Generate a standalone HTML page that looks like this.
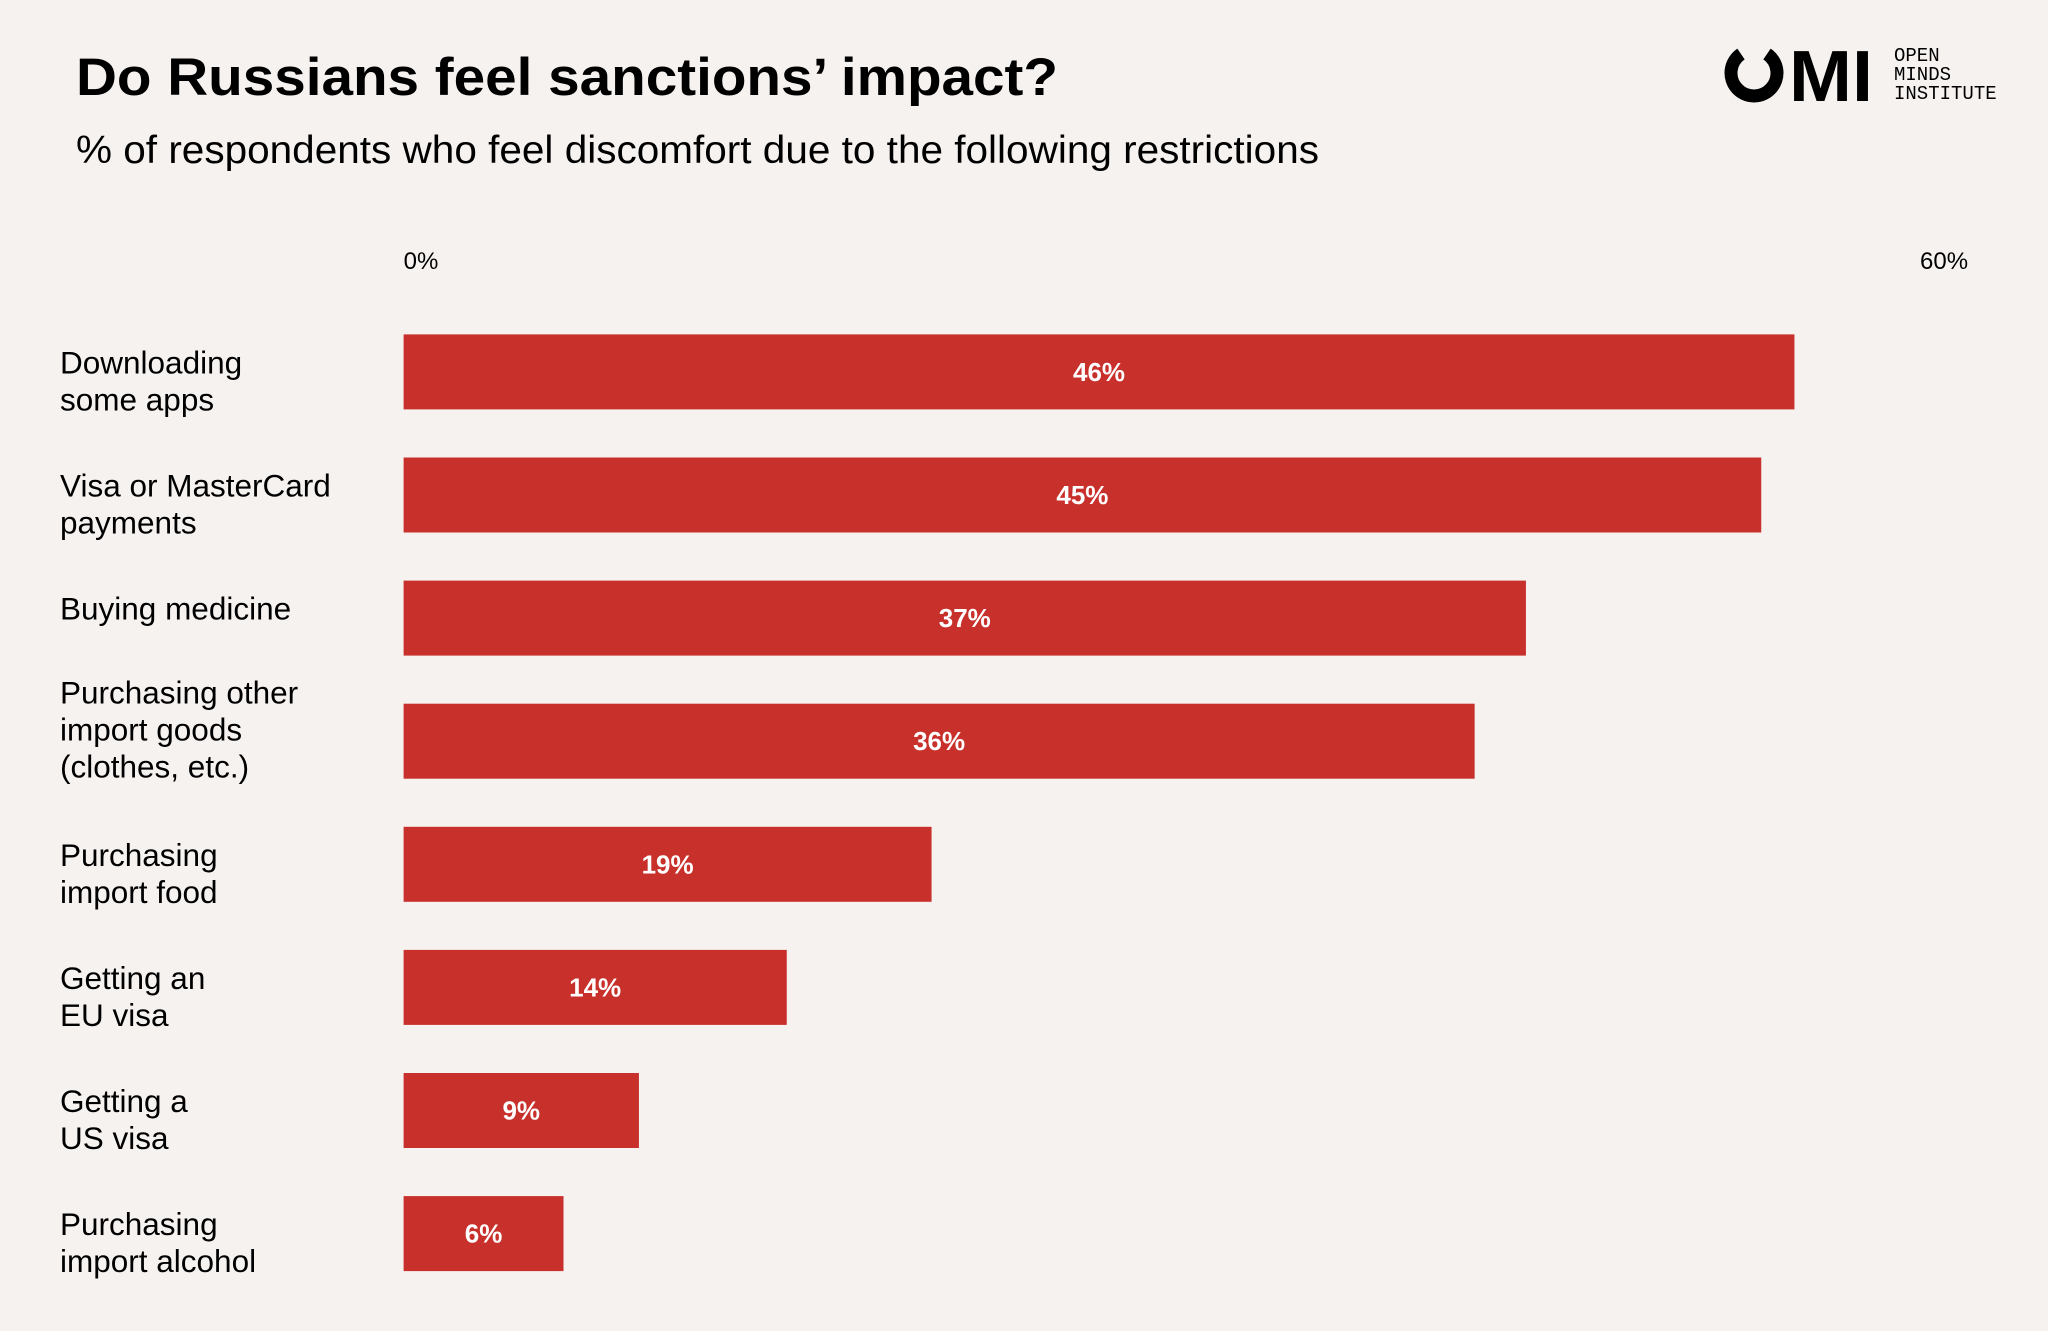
<!DOCTYPE html>
<html><head><meta charset="utf-8">
<style>
html,body{margin:0;padding:0;background:#f6f2f0;}
svg{display:block;font-family:"Liberation Sans",sans-serif;}
</style></head>
<body>
<svg id="chart" width="2048" height="1331" viewBox="0 0 2048 1331">
<rect x="0" y="0" width="2048" height="1331" fill="#f6f2f0"/>
<text x="76" y="95" font-size="53" font-weight="bold" fill="#000" textLength="982" lengthAdjust="spacingAndGlyphs">Do Russians feel sanctions’ impact?</text>
<text x="76" y="163" font-size="39" fill="#000" textLength="1243" lengthAdjust="spacingAndGlyphs">% of respondents who feel discomfort due to the following restrictions</text>
<g>
  <path d="M1741 54 A23 23 0 1 0 1767 54" fill="none" stroke="#000" stroke-width="13"/>
  <text x="1789" y="101" font-size="72" font-weight="bold" fill="#000" textLength="84" lengthAdjust="spacingAndGlyphs">MI</text>
  <text x="1894" y="61" font-family="Liberation Mono, monospace" font-size="19" fill="#000">OPEN</text>
  <text x="1894" y="80" font-family="Liberation Mono, monospace" font-size="19" fill="#000">MINDS</text>
  <text x="1894" y="99" font-family="Liberation Mono, monospace" font-size="19" fill="#000">INSTITUTE</text>
</g>
<g id="ticks"></g>
<g id="bars"></g>
</svg>
<script>
const categories = [
  ["Downloading","some apps"],
  ["Visa or MasterCard","payments"],
  ["Buying medicine"],
  ["Purchasing other","import goods","(clothes, etc.)"],
  ["Purchasing","import food"],
  ["Getting an","EU visa"],
  ["Getting a","US visa"],
  ["Purchasing","import alcohol"]
];
const vals = [46.1, 45.0, 37.2, 35.5, 17.5, 12.7, 7.8, 5.3];
const labels = ["46%","45%","37%","36%","19%","14%","9%","6%"];
const tickVals = [0, 60];
const tickLabels = ["0%","60%"];

const NS = "http://www.w3.org/2000/svg";
const x0 = 403.6, pxPer = 30.17;
const xScale = v => x0 + v * pxPer;
const bandTop = 334.4, bandStep = 123.1, barH = 75;
const yScale = i => bandTop + i * bandStep;

const ticks = document.getElementById("ticks");
tickVals.forEach((t, i) => {
  const tx = document.createElementNS(NS, "text");
  tx.setAttribute("x", i === 0 ? x0 : 1920);
  tx.setAttribute("y", 269);
  tx.setAttribute("font-size", "24");
  tx.setAttribute("fill", "#000");
  tx.textContent = tickLabels[i];
  
  
  ticks.appendChild(tx);
});

const bars = document.getElementById("bars");
vals.forEach((v, i) => {
  const y = yScale(i);
  const r = document.createElementNS(NS, "rect");
  r.setAttribute("x", x0);
  r.setAttribute("y", y);
  r.setAttribute("width", xScale(v) - x0);
  r.setAttribute("height", barH);
  r.setAttribute("fill", "#c8302c");
  
  
  bars.appendChild(r);

  const vt = document.createElementNS(NS, "text");
  vt.setAttribute("x", (x0 + xScale(v)) / 2);
  vt.setAttribute("y", y + barH / 2 + 9);
  vt.setAttribute("font-size", "26");
  vt.setAttribute("font-weight", "bold");
  vt.setAttribute("fill", "#fff");
  vt.setAttribute("text-anchor", "middle");
  vt.textContent = labels[i];
  
  
  bars.appendChild(vt);

  const lines = categories[i];
  const lh = 37;
  let firstY;
  if (lines.length === 3) firstY = y + 0;
  else firstY = y + 39;
  const ct = document.createElementNS(NS, "text");
  ct.setAttribute("font-size", "31.5");
  ct.setAttribute("fill", "#000");
  
  
  lines.forEach((ln, j) => {
    const ts = document.createElementNS(NS, "tspan");
    ts.setAttribute("x", 60);
    ts.setAttribute("y", firstY + j * lh);
    ts.textContent = ln;
    ct.appendChild(ts);
  });
  bars.appendChild(ct);
});
</script>
</body></html>
